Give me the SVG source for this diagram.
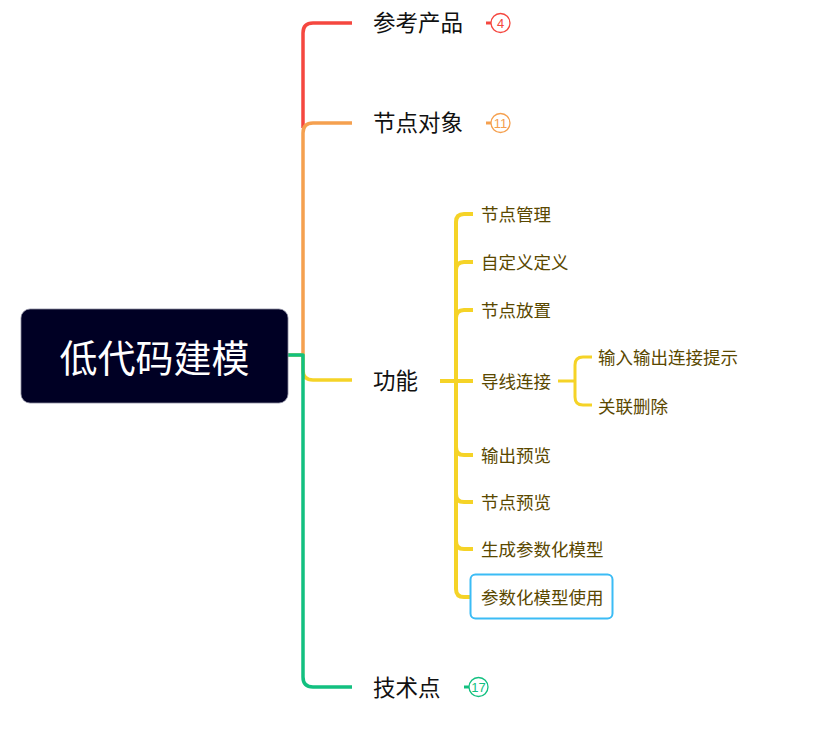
<svg xmlns="http://www.w3.org/2000/svg" width="832" height="734" viewBox="0 0 832 734">
<style>
.t{font-family:"Noto Sans CJK SC","Noto Sans",sans-serif}
.main{font-size:22.5px;fill:#111}
.sub{font-size:17.5px;fill:#5a4800}
.ln{fill:none;stroke-linecap:butt;stroke-linejoin:round}
.badge{font-family:"Liberation Sans",Arial,sans-serif;font-size:13px}
</style>
<rect width="832" height="734" fill="#fff"/>
<g id="connectors">
<path class="ln" d="M303,128 V33 Q303,23 313,23 H352" stroke="#f5473f" stroke-width="3.5"/>
<path class="ln" d="M303,355 V133 Q303,123 313,123 H352" stroke="#f5a04f" stroke-width="3.5"/>
<path class="ln" d="M288,355 H303 V370 Q303,380 313,380 H352" stroke="#f5d327" stroke-width="3.5"/>
<path class="ln" d="M288,355 H303 V677 Q303,687 313,687 H352" stroke="#12c080" stroke-width="3.5"/>
<path class="ln" d="M486,23 H491" stroke="#f5473f" stroke-width="3"/>
<path class="ln" d="M486,123 H491" stroke="#f5a04f" stroke-width="3"/>
<path class="ln" d="M464,687 H469" stroke="#12c080" stroke-width="3"/>
<path class="ln" d="M440,381 H473" stroke="#f5d327" stroke-width="4"/>
<path class="ln" d="M473,214 H464 Q456,214 456,222 V589 Q456,597 464,597 H470" stroke="#f5d327" stroke-width="4"/>
<path class="ln" d="M473,262 H464 Q456,262 456,270" stroke="#f5d327" stroke-width="4"/>
<path class="ln" d="M473,310 H464 Q456,310 456,318" stroke="#f5d327" stroke-width="4"/>
<path class="ln" d="M473,455 H464 Q456,455 456,447" stroke="#f5d327" stroke-width="4"/>
<path class="ln" d="M473,502 H464 Q456,502 456,494" stroke="#f5d327" stroke-width="4"/>
<path class="ln" d="M473,549 H464 Q456,549 456,541" stroke="#f5d327" stroke-width="4"/>
<path class="ln" d="M558,381 H574" stroke="#f5d327" stroke-width="3"/>
<path class="ln" d="M592,357 H583 Q575,357 575,365 V397 Q575,405 583,405 H592" stroke="#f5d327" stroke-width="3"/>
</g>
<g id="root">
<rect x="21" y="309" width="267" height="94" rx="9" fill="#000024" stroke="#8a8aa0" stroke-width="0.8"/>
<text class="t" x="154.5" y="372" font-size="38" fill="#fff" text-anchor="middle">低代码建模</text>
</g>
<g id="n1"><text class="t main" x="373" y="31">参考产品</text>
<circle cx="500.5" cy="23" r="9.5" fill="#fff" stroke="#f5473f" stroke-width="1.3"/><text class="badge" x="500.5" y="27.5" text-anchor="middle" fill="#f5473f">4</text></g>
<g id="n2"><text class="t main" x="373" y="131">节点对象</text>
<circle cx="500.5" cy="123" r="9.5" fill="#fff" stroke="#f5a04f" stroke-width="1.3"/><text class="badge" x="500.5" y="127.5" text-anchor="middle" fill="#f5a04f">11</text></g>
<g id="n3"><text class="t main" x="373" y="389">功能</text></g>
<g id="n4"><text class="t main" x="373" y="696">技术点</text>
<circle cx="478.5" cy="687" r="9.5" fill="#fff" stroke="#12c080" stroke-width="1.3"/><text class="badge" x="478.5" y="691.5" text-anchor="middle" fill="#12c080">17</text></g>
<g id="c1"><text class="t sub" x="481" y="220.5">节点管理</text></g>
<g id="c2"><text class="t sub" x="481" y="268.5">自定义定义</text></g>
<g id="c3"><text class="t sub" x="481" y="316.5">节点放置</text></g>
<g id="c4"><text class="t sub" x="481" y="387.5">导线连接</text></g>
<g id="c4a"><text class="t sub" x="598" y="363.5">输入输出连接提示</text></g>
<g id="c4b"><text class="t sub" x="598" y="412.5">关联删除</text></g>
<g id="c5"><text class="t sub" x="481" y="461.5">输出预览</text></g>
<g id="c6"><text class="t sub" x="481" y="508.5">节点预览</text></g>
<g id="c7"><text class="t sub" x="481" y="555.5">生成参数化模型</text></g>
<g id="c8"><rect x="470.5" y="574.5" width="142" height="44" rx="5" fill="#fff" stroke="#3bbcf5" stroke-width="2"/><text class="t sub" x="481" y="603.5">参数化模型使用</text></g>
</svg>
